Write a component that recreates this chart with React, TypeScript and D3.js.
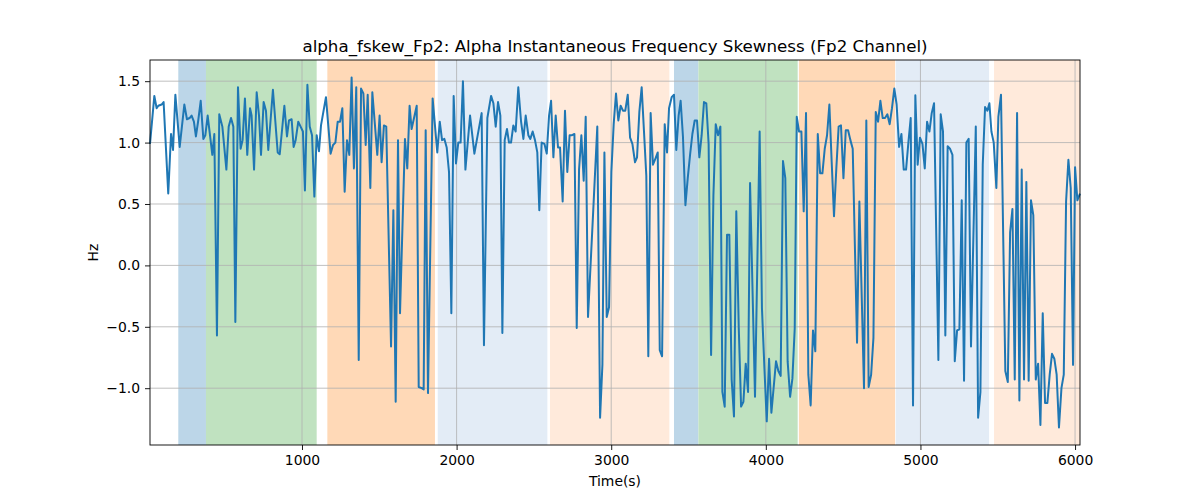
import * as d3 from 'd3';
import { useRef, useEffect } from 'react';

// sample times (s) and skewness values (Hz)
const sampleTime = [
  17, 45, 60, 71, 92, 105, 135, 153, 166, 181, 209, 239, 256, 273, 286, 301, 314, 329, 345, 362,
  375, 390, 405, 420, 433, 450, 465, 485, 511, 526, 541, 556, 569, 586, 603, 616, 631, 646, 664, 674,
  690, 707, 722, 735, 752, 767, 782, 812, 843, 856, 886, 903, 916, 933, 946, 959, 976, 991, 1006, 1019,
  1035, 1050, 1065, 1080, 1095, 1110, 1123, 1155, 1185, 1201, 1216, 1231, 1246, 1261, 1276, 1291, 1306, 1321, 1336, 1351,
  1367, 1382, 1397, 1412, 1425, 1442, 1455, 1472, 1487, 1502, 1515, 1530, 1545, 1576, 1591, 1606, 1621, 1634, 1666, 1681,
  1696, 1709, 1742, 1755, 1774, 1787, 1800, 1815, 1845, 1875, 1891, 1906, 1921, 1936, 1951, 1966, 1981, 1996, 2011, 2026,
  2041, 2057, 2087, 2115, 2162, 2177, 2199, 2223, 2238, 2253, 2268, 2283, 2296, 2311, 2326, 2339, 2352, 2367, 2382, 2399,
  2417, 2432, 2447, 2464, 2477, 2492, 2507, 2522, 2535, 2550, 2568, 2583, 2598, 2611, 2626, 2641, 2656, 2669, 2686, 2701,
  2716, 2731, 2747, 2762, 2777, 2792, 2807, 2822, 2835, 2850, 2880, 2910, 2928, 2943, 2956, 2971, 2986, 3001, 3016, 3031,
  3046, 3061, 3076, 3091, 3107, 3122, 3137, 3154, 3167, 3182, 3197, 3212, 3227, 3240, 3255, 3270, 3286, 3301, 3314, 3329,
  3346, 3361, 3374, 3391, 3406, 3421, 3436, 3449, 3464, 3480, 3495, 3510, 3525, 3540, 3555, 3570, 3585, 3600, 3615, 3630,
  3646, 3661, 3676, 3691, 3706, 3719, 3734, 3749, 3764, 3779, 3794, 3809, 3825, 3840, 3855, 3870, 3885, 3898, 3930, 3960,
  3975, 3991, 4006, 4021, 4036, 4066, 4081, 4096, 4111, 4126, 4141, 4157, 4172, 4187, 4200, 4215, 4230, 4245, 4260, 4275,
  4290, 4305, 4320, 4336, 4351, 4366, 4381, 4396, 4411, 4426, 4441, 4456, 4471, 4486, 4502, 4517, 4532, 4547, 4562, 4590,
  4605, 4635, 4650, 4665, 4681, 4696, 4711, 4726, 4741, 4756, 4771, 4786, 4801, 4816, 4831, 4846, 4862, 4877, 4892, 4907,
  4922, 4937, 4952, 4967, 4982, 4997, 5013, 5028, 5043, 5058, 5073, 5088, 5116, 5131, 5146, 5161, 5176, 5191, 5207, 5222,
  5237, 5252, 5267, 5282, 5297, 5312, 5327, 5358, 5373, 5388, 5403, 5418, 5433, 5446, 5459, 5474, 5491, 5504, 5521, 5549,
  5565, 5580, 5595, 5610, 5625, 5640, 5655, 5670, 5685, 5700, 5715, 5730, 5746, 5761, 5776, 5791, 5806, 5821, 5836, 5851,
  5866, 5881, 5896, 5912, 5927, 5942, 5957, 5972, 5987, 6000, 6015, 6032,
];

const skewHz = [
  0.99, 1.38, 1.28, 1.30, 1.31, 1.33, 0.585, 1.07, 0.94, 1.39, 0.965, 1.31, 1.19, 1.20, 1.22, 1.17, 1.05, 1.18, 1.34, 1.03,
  1.06, 1.22, 1.06, 0.90, 1.07, -0.57, 1.23, 1.13, 0.78, 1.13, 1.20, 1.13, -0.46, 1.45, 0.95, 1.02, 1.36, 0.90, 1.28, 1.22,
  0.78, 1.41, 1.22, 0.90, 1.33, 1.26, 0.94, 1.43, 0.92, 0.905, 1.30, 1.05, 1.18, 1.19, 0.965, 1.02, 1.17, 1.13, 1.09, 0.61,
  1.47, 1.13, 1.06, 0.56, 1.06, 0.93, 1.14, 1.37, 0.91, 0.98, 1.00, 1.17, 1.17, 1.28, 0.60, 1.02, 0.90, 1.53, 0.79, 1.45,
  -0.77, 1.44, 1.40, 0.98, 1.39, 0.63, 1.41, 1.14, 0.90, 1.22, 0.84, 1.14, 1.13, -0.66, 0.45, -1.11, 1.02, -0.39, 1.03, 0.79,
  1.30, 1.11, 1.30, -0.99, -1.00, -1.01, 1.10, -1.04, 1.36, 0.92, 1.17, 1.02, 1.03, 0.96, 0.76, -0.39, 1.38, 0.83, 1.00, 1.00,
  1.50, 0.78, 1.22, 0.91, 1.24, -0.65, 1.20, 1.38, 1.32, 1.13, 1.33, 1.22, -0.55, 1.02, 1.11, 1.00, 1.00, 1.14, 1.09, 1.45,
  1.17, 1.03, 1.22, 1.06, 1.03, 1.09, 1.02, 0.92, 0.45, 1.00, 0.99, 0.91, 1.22, 1.34, 0.88, 1.22, 0.96, 0.96, 0.52, 1.26,
  0.76, 1.06, 1.06, 1.07, -0.51, 0.78, 1.06, 0.69, 1.21, -0.42, 0.35, 1.13, -1.24, -0.81, 0.92, -0.42, -0.34, 0.76, 1.15, 1.40,
  1.18, 1.30, 1.26, 1.26, 1.39, 1.04, 0.99, 0.84, 0.88, 1.25, 1.45, 1.09, 0.73, -0.74, 1.24, 0.82, 0.87, 0.92, -0.69, -0.74,
  1.15, 0.92, 1.28, 1.37, 1.39, 0.94, 1.22, 1.34, 1.05, 0.49, 0.71, 0.90, 1.07, 1.18, 1.18, 0.88, 1.06, 1.33, 1.32, 0.99,
  -0.73, 0.57, 1.15, 1.06, 1.13, -1.03, -1.15, 0.25, 0.25, -0.93, -1.23, 0.44, -0.51, -1.15, -1.11, -0.80, -1.03, 0.67, -1.07, 1.09,
  -0.35, -0.84, -1.27, -0.76, -1.20, -0.78, -0.86, -0.90, 0.85, 0.71, -0.78, -1.07, -0.92, -0.51, 1.21, 1.09, 1.09, 0.44, 1.24, -0.89,
  -1.14, -0.53, -0.70, 1.07, 0.75, 0.75, 0.95, 1.06, 1.31, 0.84, 0.40, 0.79, 1.13, 1.14, 0.71, 1.10, 1.10, 1.02, 0.95, -0.63,
  0.52, -1.00, 1.18, -0.99, -0.89, -0.59, 1.25, 1.17, 1.34, 1.20, 1.20, 1.23, 1.15, 1.28, 1.44, 1.31, 0.965, 1.07, 0.78, 0.78,
  1.00, 1.20, -1.14, 1.385, 0.82, 1.04, 0.99, 0.79, 1.17, 1.09, 1.24, 1.32, -0.77, 1.23, 1.09, -0.57, 0.97, 0.95, 0.90, -0.78,
  -0.53, -0.52, 0.53, -0.94, 1.00, 1.03, -0.66, 1.13, -1.24, -1.03, 0.82, 1.29, 1.26, 1.32, 1.09, 1.00, 0.63, 1.21, 1.39, -0.86,
  -0.95, 0.27, 0.46, -0.93, 1.24, -1.10, 0.78, -0.93, 0.68, -0.94, 0.53, 0.41, -0.93, -0.80, -1.30, -0.39, -1.12, -1.12, -0.89, -0.72,
  -0.76, -0.89, -1.32, -1.00, -0.89, 0.52, 0.86, 0.63, -0.81, 0.80, 0.53, 0.585,
];

// shaded state intervals (s)
const spanStart = [200, 379, 1164, 1878, 2604, 3406, 3564, 4214, 4840, 5476];
const spanEnd = [379, 1095, 1860, 2587, 3376, 3564, 4206, 4836, 5444, 6032];
const spanColor = [
  '#bcd6e8', '#c0e2c0', '#ffd9b7', '#e3ecf6', '#ffeadb',
  '#bcd6e8', '#c0e2c0', '#ffd9b7', '#e3ecf6', '#ffeadb',
];

const xTicks = [1000, 2000, 3000, 4000, 5000, 6000];
const yTicks = [-1.0, -0.5, 0.0, 0.5, 1.0, 1.5];

export default function App() {
  const svgRef = useRef<SVGSVGElement>(null);

  useEffect(() => {
    document.body.style.margin = '0';
    if (!svgRef.current) return;
    const svg = d3.select(svgRef.current);
    svg.selectAll('*').remove();

    const W = 1200, H = 500;
    const margin = { top: 60, right: 120, bottom: 55, left: 150 };
    const width = W - margin.left - margin.right;
    const height = H - margin.top - margin.bottom;
    const font = 'DejaVu Sans, sans-serif';

    const data = sampleTime.map((t, i) => ({ t, v: skewHz[i] }));

    const x = d3.scaleLinear()
      .domain(d3.extent(sampleTime) as [number, number])
      .range([0, width]);
    const [vmin, vmax] = d3.extent(skewHz) as [number, number];
    const pad = (vmax - vmin) * 0.05;
    const y = d3.scaleLinear().domain([vmin - pad, vmax + pad]).range([height, 0]);

    svg.append('rect').attr('width', W).attr('height', H).attr('fill', '#fff');

    const g = svg.append('g').attr('transform', `translate(${margin.left},${margin.top})`);

    // background state spans
    spanStart.forEach((s, i) => {
      const x0 = x(s);
      const x1 = Math.min(x(spanEnd[i]), width);
      g.append('rect')
        .attr('x', x0).attr('y', 0)
        .attr('width', x1 - x0).attr('height', height)
        .attr('fill', spanColor[i]);
    });

    // grid
    xTicks.forEach((t) => {
      g.append('line')
        .attr('x1', x(t)).attr('x2', x(t)).attr('y1', 0).attr('y2', height)
        .attr('stroke', '#b0b0b0').attr('stroke-width', 0.8);
    });
    yTicks.forEach((t) => {
      g.append('line')
        .attr('x1', 0).attr('x2', width).attr('y1', y(t)).attr('y2', y(t))
        .attr('stroke', '#b0b0b0').attr('stroke-width', 0.8);
    });

    // series
    const line = d3.line<{ t: number; v: number }>()
      .x((d) => x(d.t))
      .y((d) => y(d.v));

    g.append('path')
      .datum(data)
      .attr('fill', 'none')
      .attr('stroke', '#1f77b4')
      .attr('stroke-width', 2)
      .attr('stroke-linejoin', 'round')
      .attr('d', line);

    // frame
    g.append('rect')
      .attr('width', width).attr('height', height)
      .attr('fill', 'none').attr('stroke', '#000').attr('stroke-width', 0.9);

    // axes
    const fmtY = (d: d3.NumberValue) => d3.format('.1f')(+d).replace('-', '\u2212');
    g.append('g').attr('transform', `translate(0,${height})`)
      .call(d3.axisBottom(x).tickValues(xTicks).tickSize(5).tickPadding(5).tickFormat(d3.format('d')))
      .call((ag) => ag.select('.domain').remove())
      .call((ag) => ag.selectAll('.tick line').attr('stroke', '#000').attr('stroke-width', 0.9))
      .call((ag) => ag.selectAll('.tick text').attr('font-size', 13.9).attr('font-family', font).attr('fill', '#000'));

    g.append('g')
      .call(d3.axisLeft(y).tickValues(yTicks).tickSize(5).tickPadding(5).tickFormat(fmtY))
      .call((ag) => ag.select('.domain').remove())
      .call((ag) => ag.selectAll('.tick line').attr('stroke', '#000').attr('stroke-width', 0.9))
      .call((ag) => ag.selectAll('.tick text').attr('font-size', 13.9).attr('font-family', font).attr('fill', '#000'));

    // labels
    svg.append('text')
      .attr('x', margin.left + width / 2).attr('y', margin.top - 8)
      .attr('text-anchor', 'middle').attr('font-family', font).attr('font-size', 16.7)
      .text('alpha_fskew_Fp2: Alpha Instantaneous Frequency Skewness (Fp2 Channel)');

    svg.append('text')
      .attr('x', margin.left + width / 2).attr('y', 486)
      .attr('text-anchor', 'middle').attr('font-family', font).attr('font-size', 13.9)
      .text('Time(s)');

    svg.append('text')
      .attr('transform', `translate(98,${margin.top + height / 2}) rotate(-90)`)
      .attr('text-anchor', 'middle').attr('font-family', font).attr('font-size', 13.9)
      .text('Hz');
  }, []);

  return <svg ref={svgRef} width={1200} height={500} style={{ display: 'block' }} />;
}
